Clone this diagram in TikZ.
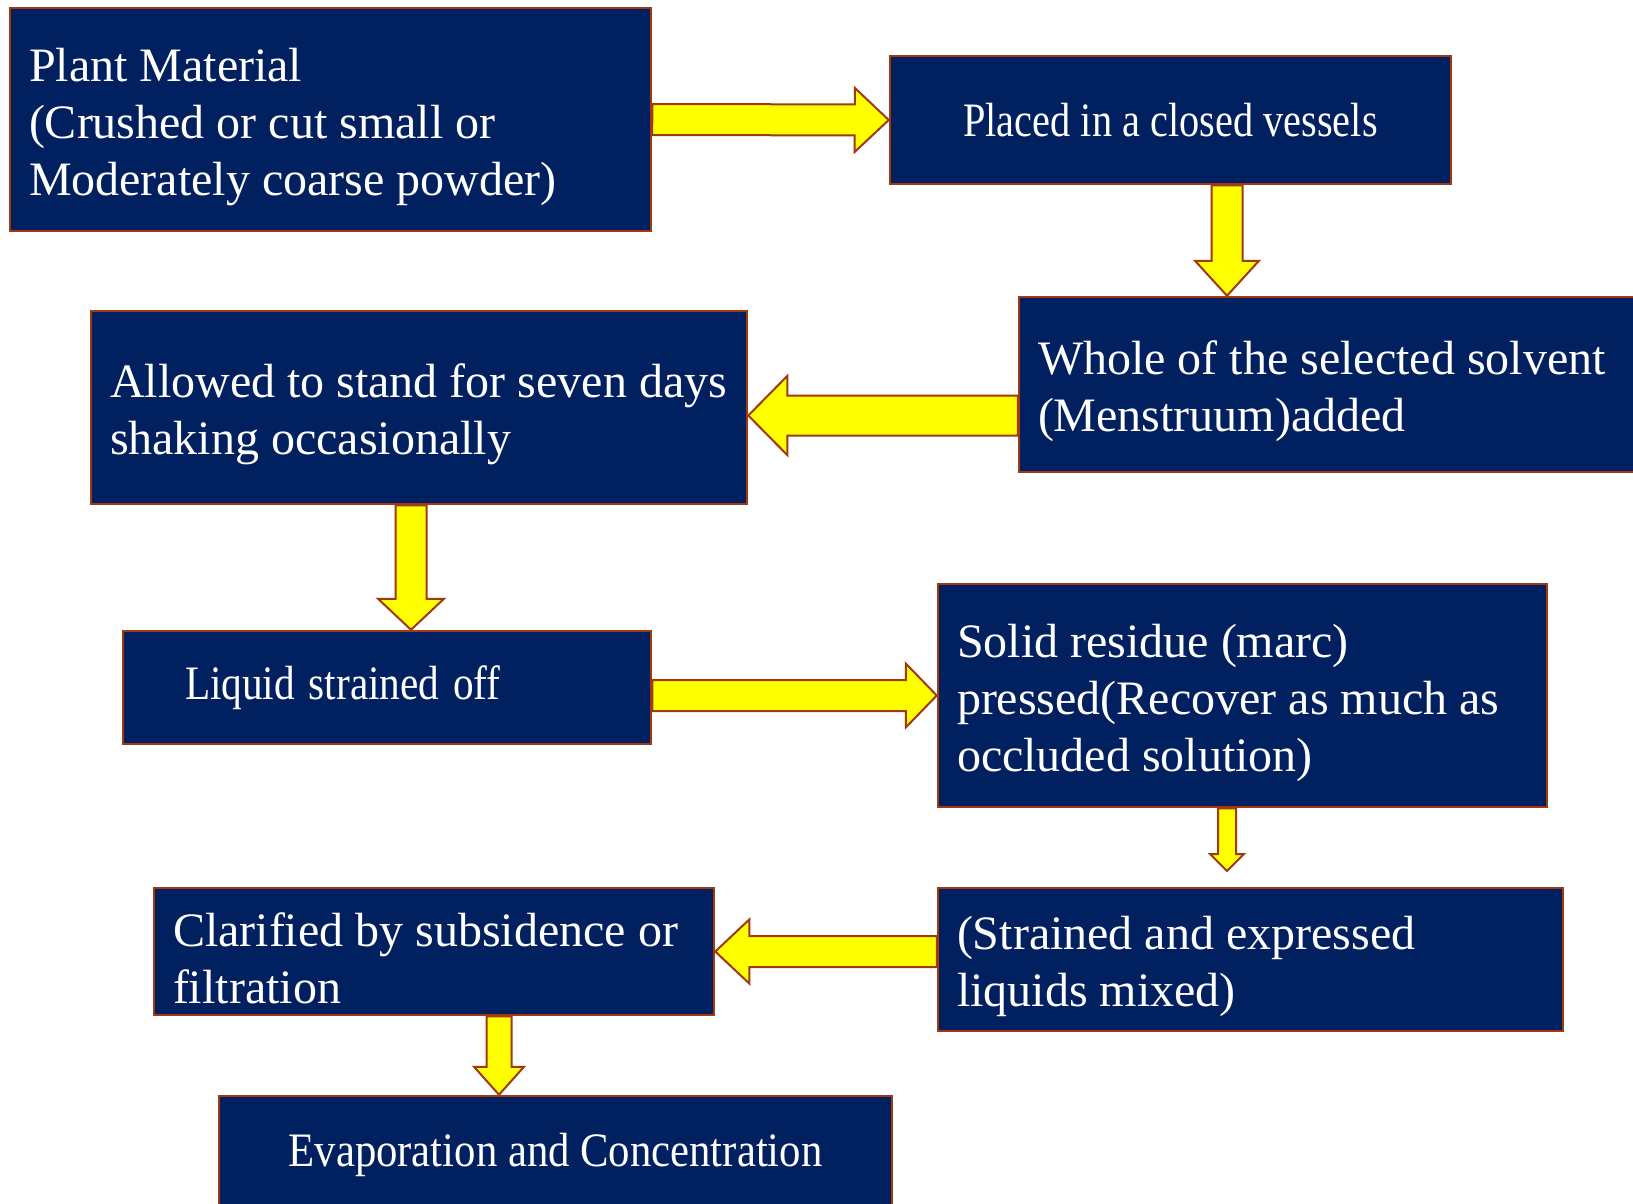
\documentclass[tikz,border=0pt]{standalone}
\usepackage{fontspec}
\setmainfont{Liberation Serif}
\usepackage{graphicx}
\usepackage{xcolor}
\usepackage{tikz}
\usetikzlibrary{arrows.meta, positioning, calc}

\definecolor{boxnavy}{RGB}{0,32,96}
\definecolor{edgebrown}{RGB}{160,56,16}
\definecolor{arrowyellow}{RGB}{255,255,0}

% horizontally squeezed one-line text, sitting a little low
\newcommand{\squeeze}[2][0.88]{\raisebox{-5pt}{\scalebox{#1}[1]{#2}}}

% block arrow: from, to, shaft half width, head half width, head length
\newcommand{\flowarrow}[5]{%
  \coordinate (hb) at ($(#2)!#5!(#1)$);
  \draw[arrowbody] ($(#1)!#3!90:(#2)$) -- ($(hb)!#3!90:(#2)$)
    -- ($(hb)!#4!90:(#2)$) -- (#2) -- ($(hb)!#4!-90:(#2)$)
    -- ($(hb)!#3!-90:(#2)$) -- ($(#1)!#3!-90:(#2)$) -- cycle;
}

\begin{document}
\begin{tikzpicture}[x=1pt, y=-1pt,
  stepbox/.style={draw=edgebrown, line width=2.5pt, fill=boxnavy, text=white,
    font=\fontsize{48}{57}\selectfont, inner ysep=0pt, anchor=center},
  leftbox/.style={stepbox, align=flush left, inner xsep=19pt,
    execute at begin node={\rule{0pt}{48pt}}},
  midbox/.style={stepbox, align=center, inner xsep=0pt},
  arrowbody/.style={draw=edgebrown, line width=2pt, fill=arrowyellow, line join=miter}
]
  \useasboundingbox (0,0) rectangle (1633,1204);
  \clip (0,0) rectangle (1633,1204);

  % boxes
  \node[leftbox, text width=603pt, minimum height=223pt] (plant) at (330.5,119.5)
    {Plant Material\\(Crushed or cut small or\\Moderately coarse powder)};
  \node[midbox, minimum width=561pt, minimum height=128pt] (vessel) at (1170.5,120)
    {\squeeze[0.84]{Placed in a closed vessels}};
  \node[leftbox, text width=603pt, minimum height=175pt] (solvent) at (1339.5,384.5)
    {Whole of the selected solvent\\(Menstruum)added};
  \node[leftbox, text width=618pt, minimum height=193pt] (stand) at (419,407.5)
    {Allowed to stand for seven days\\shaking occasionally};
  \node[midbox, align=left, inner xsep=62pt, text width=404pt, minimum height=113pt] (strain) at (387,687.5)
    {\squeeze[0.86]{Liquid strained off}};
  \node[leftbox, text width=571pt, minimum height=223pt] (marc) at (1242.5,695.5)
    {Solid residue (marc)\\pressed(Recover as much as\\occluded solution)};
  \node[leftbox, text width=587pt, minimum height=143pt] (mixed) at (1250.5,959.5)
    {(Strained and expressed\\liquids mixed)};
  \node[leftbox, text width=522pt, minimum height=127pt] (clarify) at (434,951.5)
    {Clarified by subsidence or\\filtration};
  \node[midbox, minimum width=673pt, minimum height=118pt] (evap) at (555.5,1155)
    {\squeeze[0.89]{Evaporation and Concentration}};

  % guide columns and rows for the arrows
  \coordinate (colR) at (1227,0);
  \coordinate (colA) at (411,0);
  \coordinate (colC) at (499,0);
  \coordinate (rowS) at (0,415.5);
  \coordinate (marcEnd) at (1227,871);

  % arrows
  \flowarrow{plant.east}{vessel.west}{15.5pt}{32pt}{34pt}
  \flowarrow{vessel.south -| colR}{solvent.north -| colR}{15.5pt}{32pt}{35pt}
  \flowarrow{solvent.west |- rowS}{stand.east |- rowS}{20pt}{39.5pt}{39pt}
  \flowarrow{stand.south -| colA}{strain.north -| colA}{15.5pt}{33pt}{31pt}
  \flowarrow{strain.east |- marc.west}{marc.west}{15.5pt}{32pt}{31pt}
  \flowarrow{marc.south -| colR}{marcEnd}{9pt}{17pt}{17pt}
  \flowarrow{mixed.west |- clarify.east}{clarify.east}{15.5pt}{32pt}{34pt}
  \flowarrow{clarify.south -| colC}{evap.north -| colC}{12.5pt}{25pt}{28pt}
\end{tikzpicture}
\end{document}
